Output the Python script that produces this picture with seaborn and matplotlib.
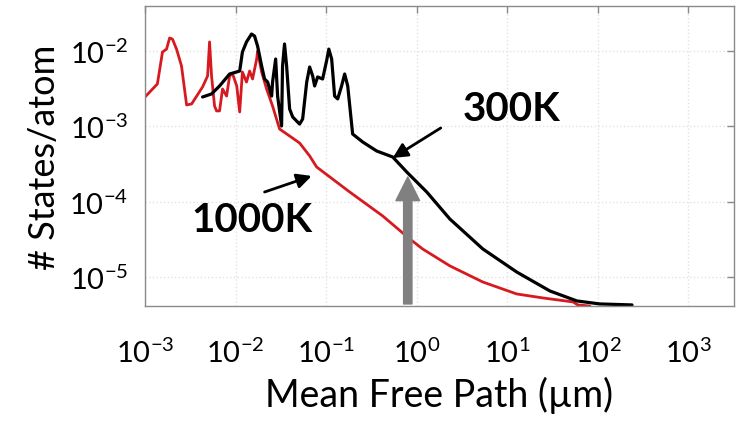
import numpy as np
import pandas as pd
import matplotlib
matplotlib.use("Agg")
import matplotlib.pyplot as plt
import matplotlib.ticker as mticker
import seaborn as sns

# datos (camino libre medio en um, estados/atomo)
mfp_1000k = [1.0e-3, 1.37e-3, 1.56e-3, 1.73e-3, 1.87e-3, 2.01e-3, 2.23e-3, 2.53e-3,
             2.88e-3, 3.27e-3, 4.32e-3, 4.91e-3, 5.16e-3, 5.43e-3, 5.86e-3, 6.17e-3,
             6.65e-3, 7.18e-3, 7.96e-3, 8.59e-3, 9.27e-3, 1.03e-2, 1.11e-2, 1.19e-2,
             1.32e-2, 1.43e-2, 1.54e-2, 1.71e-2, 1.75e-2, 1.94e-2, 2.20e-2, 2.56e-2,
             3.06e-2, 3.95e-2, 5.09e-2, 6.57e-2, 7.85e-2, 0.182, 0.421, 0.837,
             1.16, 2.32, 5.36, 12.7, 24.7, 52.9, 60.1, 81.7]
dos_1000k = [2.45e-3, 3.65e-3, 9.7e-3, 1.06e-2, 1.49e-2, 1.44e-2, 1.06e-2, 6.32e-3,
             1.92e-3, 1.98e-3, 3.33e-3, 4.66e-3, 1.32e-2, 4.66e-3, 1.86e-3, 1.60e-3,
             1.60e-3, 3.13e-3, 2.52e-3, 4.66e-3, 4.95e-3, 3.43e-3, 1.55e-3, 5.26e-3,
             3.87e-3, 5.42e-3, 4.25e-3, 7.83e-3, 1.0e-2, 5.26e-3, 3.13e-3, 1.86e-3,
             9.2e-4, 7.43e-4, 6.0e-4, 4.04e-4, 2.88e-4, 1.34e-4, 6.44e-5, 3.19e-5,
             2.35e-5, 1.40e-5, 8.55e-6, 5.93e-6, 5.25e-6, 4.65e-6, 4.24e-6, 4.1e-6]

mfp_300k = [4.32e-3, 5.43e-3, 6.65e-3, 8.59e-3, 1.11e-2, 1.19e-2, 1.32e-2, 1.50e-2,
            1.62e-2, 1.75e-2, 1.94e-2, 2.09e-2, 2.26e-2, 2.50e-2, 2.56e-2, 2.77e-2,
            2.91e-2, 3.22e-2, 3.30e-2, 3.47e-2, 3.66e-2, 3.95e-2, 4.27e-2, 5.09e-2,
            5.50e-2, 6.10e-2, 6.57e-2, 7.10e-2, 7.46e-2, 8.05e-2, 9.14e-2, 0.101,
            0.107, 0.115, 0.124, 0.134, 0.148, 0.160, 0.173, 0.196, 0.253, 0.361,
            0.543, 0.776, 1.29, 2.32, 5.36, 12.7, 29.5, 58.6, 105, 238]
dos_300k = [2.45e-3, 2.69e-3, 3.43e-3, 4.95e-3, 5.42e-3, 9.7e-3, 1.32e-2, 1.68e-2,
            1.58e-2, 1.16e-2, 6.32e-3, 4.25e-3, 3.87e-3, 2.52e-3, 3.87e-3, 7.83e-3,
            2.52e-3, 1.01e-3, 6.32e-3, 1.24e-2, 6.32e-3, 1.70e-3, 1.33e-3, 1.07e-3,
            1.25e-3, 3.87e-3, 6.13e-3, 4.66e-3, 3.43e-3, 4.52e-3, 4.25e-3, 7.37e-3,
            1.06e-2, 7.83e-3, 2.52e-3, 2.31e-3, 3.43e-3, 4.95e-3, 3.43e-3, 7.9e-4,
            6.19e-4, 4.70e-4, 3.91e-4, 2.47e-4, 1.34e-4, 5.87e-5, 2.35e-5, 1.16e-5,
            6.50e-6, 4.79e-6, 4.37e-6, 4.24e-6]

x_ticks = [1e-3, 1e-2, 1e-1, 1e0, 1e1, 1e2, 1e3]
y_ticks = [1e-5, 1e-4, 1e-3, 1e-2]

df = pd.concat([
    pd.DataFrame({"mfp": mfp_1000k, "dos": dos_1000k, "T": "1000K"}),
    pd.DataFrame({"mfp": mfp_300k, "dos": dos_300k, "T": "300K"}),
])

sns.set_theme(style="white")
plt.rcParams["font.family"] = ["Lato", "DejaVu Sans"]
plt.rcParams["mathtext.fontset"] = "custom"
plt.rcParams["mathtext.rm"] = "Lato"
plt.rcParams["mathtext.it"] = "Lato:italic"
plt.rcParams["mathtext.bf"] = "Lato:bold"
plt.rcParams["text.color"] = "black"

fig = plt.figure(figsize=(7.36, 4.27), dpi=100)
ax = fig.add_axes([0.197, 0.281, 0.8, 0.703])

sns.lineplot(data=df[df["T"] == "1000K"], x="mfp", y="dos", sort=False,
             color="#d71920", linewidth=2.0, ax=ax, legend=False)
sns.lineplot(data=df[df["T"] == "300K"], x="mfp", y="dos", sort=False,
             color="black", linewidth=2.3, ax=ax, legend=False)

ax.set_xscale("log")
ax.set_yscale("log")
ax.set_xlim(1e-3, 10**3.5)
ax.set_ylim(10**-5.387, 10**-1.40)
ax.set_xticks(x_ticks)
ax.set_yticks(y_ticks)
ax.xaxis.set_major_formatter(mticker.LogFormatterMathtext())
ax.yaxis.set_major_formatter(mticker.LogFormatterMathtext())
ax.xaxis.set_minor_locator(mticker.NullLocator())
ax.yaxis.set_minor_locator(mticker.NullLocator())

ax.tick_params(axis="both", which="major", direction="in", length=5, width=1,
               color="#8a8a8a", top=True, right=True, labelsize=21, labelcolor="black")
ax.tick_params(axis="x", pad=23)
ax.tick_params(axis="y", pad=12)
for sp in ax.spines.values():
    sp.set_color("#8a8a8a")
    sp.set_linewidth(1.0)
ax.grid(True, which="major", color="#e2e2e2", linestyle=":", linewidth=1)

ax.set_xlabel("Mean Free Path (µm)", fontsize=27, color="black", labelpad=6)
ax.set_ylabel("# States/atom", fontsize=26, color="black", labelpad=6)

# anotaciones
ax.text(11.2, 1.70e-3, "300K", fontsize=29, fontweight="bold", ha="center", va="center",
        color="black")
ax.annotate("", xy=(0.543, 3.8e-4), xytext=(1.84, 9.5e-4),
            arrowprops=dict(arrowstyle="-|>", color="black", lw=2, mutation_scale=22,
                            shrinkA=0, shrinkB=0))
ax.text(1.50e-2, 5.87e-5, "1000K", fontsize=29, fontweight="bold", ha="center", va="center",
        color="black")
ax.annotate("", xy=(6.92e-2, 2.19e-4), xytext=(2.09e-2, 1.34e-4),
            arrowprops=dict(arrowstyle="-|>", color="black", lw=2, mutation_scale=22,
                            shrinkA=0, shrinkB=0))
ax.annotate("", xy=(0.796, 2.12e-4), xytext=(0.796, 4.37e-6),
            arrowprops=dict(width=6, headwidth=17, headlength=17, color="#808080",
                            shrink=0))

fig.savefig("out.png", dpi=100)
